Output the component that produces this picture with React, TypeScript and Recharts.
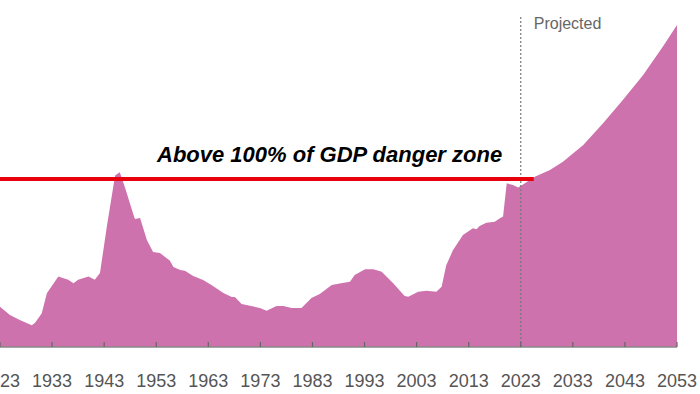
import React from 'react';
import { AreaChart, Area, XAxis, YAxis, ReferenceLine } from 'recharts';

const years = [
  1923.0, 1924.9, 1926.8, 1929.1, 1929.7, 1931.0, 1932.0, 1934.2, 1936.1, 1937.1,
  1938.0, 1940.0, 1941.2, 1942.2, 1943.5, 1945.1, 1946.0, 1947.0, 1948.3, 1948.9,
  1949.9, 1951.2, 1952.4, 1953.7, 1954.7, 1955.6, 1956.3, 1957.6, 1958.5, 1960.1,
  1962.0, 1963.6, 1965.9, 1967.5, 1968.1, 1969.4, 1971.0, 1972.9, 1974.2, 1976.1,
  1977.4, 1979.0, 1980.9, 1982.8, 1984.4, 1986.7, 1988.5, 1990.2, 1991.1, 1993.1,
  1994.7, 1996.3, 1998.5, 2000.7, 2001.4, 2003.3, 2004.9, 2006.8, 2007.8, 2008.7,
  2010.0, 2011.9, 2013.8, 2014.5, 2015.1, 2016.4, 2018.0, 2019.0, 2019.6, 2020.3,
  2021.5, 2022.5, 2023.8, 2024.7, 2025.7, 2028.6, 2031.1, 2035.0, 2038.8, 2042.6,
  2046.5, 2050.3, 2053.0,
];

const debtPct = [
  24, 19, 16, 13, 14.3, 20, 32, 42, 40, 38,
  40, 42, 40, 44, 71.4, 102, 104, 95, 82, 76.2,
  76.8, 63.7, 56.5, 56, 53.6, 51.5, 47.6, 45.8, 45.4, 42.3,
  39.9, 36.9, 32.1, 29.8, 29.8, 25.6, 24.6, 23.2, 21.6, 24.4,
  24.4, 23.2, 23.2, 29.2, 31.5, 36.9, 38, 38.9, 42.9, 46.3,
  46.3, 44.8, 37.9, 30.4, 29.9, 32.9, 33.5, 32.9, 35.9, 48.8,
  57.7, 66.7, 70.7, 70.1, 72, 74, 74.6, 76.6, 77.6, 97.4,
  96.4, 95, 97.4, 99.4, 101.4, 105.4, 110.3, 120.2, 133.2, 147,
  161.9, 178.8, 191.7,
];

const tickYears = [1923, 1933, 1943, 1953, 1963, 1973, 1983, 1993, 2003, 2013, 2023, 2033, 2043, 2053];

const projectionStart = 2023;
const dangerLevel = 100;
const dangerLineEnd = 2025.5;
const dangerText = 'Above 100% of GDP danger zone';
const projectedText = 'Projected';

const data = years.map((y, i) => ({ year: y, value: debtPct[i] }));

const Tick = (props: any) => {
  const { x, y, payload } = props;
  return (
    <g>
      <line x1={x} x2={x} y1={y - 5} y2={y} stroke="#666" strokeWidth={1.2} />
      <text
        x={x}
        y={y + 40}
        textAnchor="middle"
        fill="#555"
        fontFamily="'Liberation Sans', Arial, sans-serif"
        fontSize={18}
      >
        {payload.value}
      </text>
    </g>
  );
};

const ProjectedLabel = (props: any) => {
  const vb = props.viewBox || {};
  return (
    <text
      x={vb.x + 13}
      y={vb.y + 14}
      fill="#666"
      fontFamily="'Liberation Sans', Arial, sans-serif"
      fontSize={16}
    >
      {projectedText}
    </text>
  );
};

const DangerLabel = (props: any) => {
  const vb = props.viewBox || {};
  return (
    <text
      x={vb.x + 157}
      y={vb.y - 17}
      fill="#000"
      fontFamily="'Liberation Sans', Arial, sans-serif"
      fontWeight="bold"
      fontStyle="italic"
      fontSize={22}
      style={{ paintOrder: 'stroke' } as any}
    >
      {dangerText}
    </text>
  );
};

export default function App() {
  return (
    <div style={{ position: 'absolute', left: 0, top: 0, width: 700, height: 394, background: '#fff' }}>
      <AreaChart width={700} height={394} data={data} margin={{ top: 15, right: 23, bottom: 0, left: 0 }}>
        <YAxis hide domain={[0, 197.6]} type="number" allowDataOverflow />
        <Area
          type="linear"
          dataKey="value"
          stroke="none"
          fill="#CD72AD"
          fillOpacity={1}
          isAnimationActive={false}
          dot={false}
          activeDot={false}
        />
        <ReferenceLine
          x={projectionStart}
          stroke="#777"
          strokeWidth={1.2}
          strokeDasharray="2 2"
          label={<ProjectedLabel />}
        />
        <ReferenceLine
          segment={[
            { x: 1923, y: dangerLevel },
            { x: dangerLineEnd, y: dangerLevel },
          ]}
          stroke="#E8000F"
          strokeWidth={4}
          label={<DangerLabel />}
        />
        <XAxis
          dataKey="year"
          type="number"
          domain={[1923, 2053]}
          ticks={tickYears}
          interval={0}
          height={47}
          tickLine={false}
          tickSize={0}
          tickMargin={0}
          axisLine={{ stroke: '#888', strokeWidth: 1.5 }}
          tick={<Tick />}
        />
      </AreaChart>
    </div>
  );
}
